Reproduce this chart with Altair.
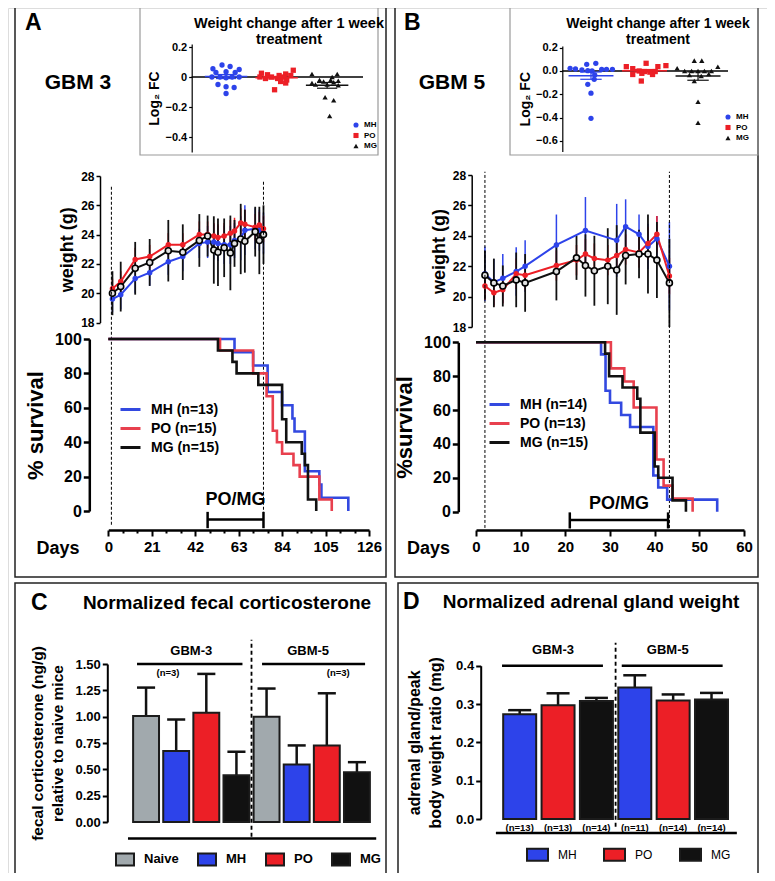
import altair as alt
import pandas as pd

FONT = "Liberation Sans"
OX, OY = 8, 8            # page margin
W, H = 759, 865


def px(v):
    return v - OX


def py(v):
    return v - OY


BLUE = "#2D43EA"
RED = "#EC1F26"
BLACK = "#111111"
GREY = "#A1A9AD"
S_BLUE = "#3349E0"
S_RED = "#E8404E"

GROUPS = ["MH", "PO", "MG"]
GCOL = [BLUE, RED, BLACK]

# ---------------- inset data: log2 fold change after 1 week ----------------
fcA_MH = [0.055, 0.08, 0.07, 0.05, 0.03, 0.035, 0.03, 0.0, 0.0, -0.005, 0.0, 0.0, -0.05, -0.065, -0.07, -0.11]
jA_MH = [-0.26, -0.08, 0.08, 0.26, -0.2, 0.0, 0.18, -0.28, -0.12, 0.0, 0.12, 0.26, -0.16, 0.0, 0.16, 0.0]
fcA_PO = [0.045, 0.025, 0.02, 0.015, 0.01, 0.01, 0.0, 0.0, 0.0, -0.01, -0.01, -0.02, -0.03, -0.04, -0.085]
jA_PO = [0.33, -0.3, 0.18, -0.18, 0.05, 0.28, -0.33, -0.1, 0.12, -0.22, 0.02, 0.2, 0.08, 0.18, -0.04]
fcA_MG = [0.02, 0.02, 0.0, -0.02, -0.02, -0.025, -0.03, -0.035, -0.04, -0.05, -0.05, -0.055, -0.135, -0.155, -0.26]
jA_MG = [-0.3, 0.2, 0.1, -0.15, 0.07, 0.22, -0.07, 0.13, -0.3, -0.23, 0.0, 0.22, -0.04, 0.13, 0.05]

fcB_MH = [0.023, 0.017, 0.009, 0.003, 0.057, 0.066, 0.014, 0.014, 0.014, 0.0, -0.034, -0.071, -0.114, -0.19, -0.406]
jB_MH = [-0.39, -0.29, -0.17, -0.06, -0.08, 0.09, 0.2, 0.29, 0.4, 0.02, 0.07, 0.06, -0.06, 0.0, 0.0]
fcB_PO = [0.037, 0.066, 0.037, 0.046, 0.02, 0.0, -0.005, -0.01, -0.005, -0.03, -0.03, -0.02, -0.086]
jB_PO = [-0.34, 0.03, 0.25, 0.4, -0.22, -0.1, 0.0, 0.1, 0.2, -0.22, 0.15, -0.05, -0.06]
fcB_MG = [0.089, 0.089, 0.023, 0.037, 0.0, 0.0, 0.0, 0.0, 0.0, -0.034, -0.043, -0.026, -0.086, -0.263, -0.443]
jB_MG = [-0.07, 0.07, -0.39, 0.37, -0.25, -0.12, 0.0, 0.12, 0.25, -0.16, 0.06, 0.2, -0.07, 0.0, 0.0]

# ---------------- body weight curves ----------------
wA_days = [2, 6, 13, 20, 29, 36, 44, 48, 51, 53, 56, 59, 61, 64, 66, 71, 73, 75]
wA_MH = [19.6, 19.9, 21.0, 21.4, 22.15, 22.5, 23.4, 23.5, 23.5, 23.4, 23.3, 23.3, 23.6, 23.75, 24.3, 24.4, 24.3, 24.1]
wA_PO = [20.3, 20.8, 22.3, 22.5, 23.3, 23.3, 24.0, 24.0, 23.9, 23.8, 23.9, 24.1, 24.25, 24.8, 24.7, 24.5, 24.65, 24.4]
wA_MG = [20.0, 20.45, 21.7, 22.1, 22.9, 22.8, 23.6, 23.9, 22.95, 22.8, 23.1, 22.75, 23.4, 23.7, 23.55, 24.2, 23.6, 24.0]
sdA_MH = [0.9, 1.0, 1.0, 0.9, 0.9, 1.0, 1.0, 1.1, 1.2, 1.2, 1.3, 1.3, 1.2, 1.5, 1.7, 1.4, 1.4, 1.4]
sdA_PO = [0.7, 0.7, 0.8, 0.8, 0.8, 0.8, 0.9, 0.9, 0.9, 0.9, 0.9, 0.9, 0.9, 1.0, 1.0, 0.9, 0.9, 0.9]
sdA_MG = [1.5, 1.7, 1.8, 1.6, 2.1, 1.9, 1.8, 1.4, 2.3, 2.3, 2.0, 2.55, 1.6, 2.4, 2.15, 1.7, 2.3, 2.0]

wB_days = [2, 4, 6, 9, 11, 18, 22.5, 24.5, 26.5, 29.5, 31.5, 33.5, 36.5, 38.5, 40.5, 43.3]
wB_MH = [21.5, 20.95, 21.2, 21.65, 22.0, 23.4, None, 24.35, None, None, 23.7, 24.6, 24.1, 23.3, 23.8, 22.0]
wB_PO = [20.7, 20.25, 20.45, 21.5, 21.4, 22.05, 22.4, 22.8, 22.5, 22.4, 22.7, 23.1, 22.9, 23.5, 24.1, 21.35]
wB_MG = [21.4, 20.9, 20.7, 21.1, 20.9, 21.65, 22.55, 22.05, 21.7, 22.0, 21.75, 22.7, 22.8, 22.8, 22.4, 20.9]
sdB_MH = [1.8, 1.5, 1.6, 1.6, 1.7, 2.0, None, 2.2, None, None, 2.4, 1.8, 1.3, 1.5, 1.5, 2.9]
sdB_PO = [0.9, 0.9, 0.9, 1.0, 1.0, 1.0, 1.0, 1.0, 1.0, 1.0, 1.0, 1.0, 1.0, 1.1, 1.2, 1.2]
sdB_MG = [1.6, 1.6, 1.35, 1.8, 1.9, 1.9, 1.45, 2.05, 2.3, 2.5, 2.95, 1.9, 1.6, 2.6, 2.5, 2.9]

# ---------------- Kaplan-Meier survival ----------------
sA_MH_d = [0, 61, 70, 77, 84, 89, 90, 95, 102, 103, 116]
sA_MH_s = [100, 92.3, 84.6, 69.2, 61.5, 53.8, 46.2, 23.1, 15.4, 7.7, 0]
sA_PO_d = [0, 54, 70, 76.5, 79.5, 81.5, 84, 89.5, 92.5, 102, 108]
sA_PO_s = [100, 93.3, 80, 66.7, 46.7, 40, 33.3, 26.7, 20, 6.7, 0]
sA_MG_d = [0, 53, 60, 62, 72.5, 84, 86, 93.5, 95, 96.5, 100.5]
sA_MG_s = [100, 93.3, 86.7, 80, 73.3, 53.3, 40, 33.3, 26.7, 6.7, 0]
nA = [13, 15, 15]

sB_MH_d = [0, 28, 29, 30, 32.5, 34.5, 39.7, 40.8, 42.8, 54]
sB_MH_s = [100, 92.9, 71.4, 64.3, 57.1, 50, 21.4, 14.3, 7.1, 0]
sB_PO_d = [0, 30.2, 33.2, 35.3, 40.4, 42, 44, 48.5]
sB_PO_s = [100, 84.6, 76.9, 61.5, 30.8, 15.4, 7.7, 0]
sB_MG_d = [0, 28.9, 29.8, 32.8, 36.1, 36.8, 40, 40.8, 44, 47]
sB_MG_s = [100, 93.3, 80, 73.3, 66.7, 46.7, 26.7, 20, 6.7, 0]
nB = [14, 13, 15]

# ---------------- C: fecal corticosterone ----------------
C_groups = ["Naive", "MH", "PO", "MG"]
C_gbm3 = [1.006, 0.673, 1.038, 0.444]
C_gbm3_sd = [0.27, 0.30, 0.368, 0.223]
C_gbm5 = [1.0, 0.546, 0.727, 0.473]
C_gbm5_sd = [0.267, 0.181, 0.495, 0.095]

# ---------------- D: adrenal gland weight ----------------
D_groups = ["MH", "PO", "MG"]
D_gbm3 = [0.273, 0.297, 0.308]
D_gbm3_sd = [0.011, 0.031, 0.008]
D_gbm5 = [0.343, 0.309, 0.312]
D_gbm5_sd = [0.032, 0.016, 0.017]
D_n3 = [13, 13, 14]
D_n5 = [11, 14, 14]

DUMMY = pd.DataFrame({"k": [0]})


def lin(domain, rng):
    return alt.Scale(domain=domain, range=rng, nice=False, zero=False)


def yaxis(x_ref, values, title, lab_size, title_size, tick, dom_w, **kw):
    d = dict(orient="left", offset=-px(x_ref), values=values, title=title, grid=False,
             labelFont=FONT, labelFontSize=lab_size, labelFontWeight="bold", labelColor="black",
             titleFont=FONT, titleFontSize=title_size, titleFontWeight="bold", titleColor="black",
             domainColor="black", domainWidth=dom_w, tickColor="black", tickWidth=dom_w,
             tickSize=tick, labelPadding=2, labelFlush=False, labelOverlap=False)
    d.update(kw)
    return alt.Axis(**d)


# ======================= insets =======================
def inset(vals, jits, xdom, xr, ydom, yr, ax_x, yvals, lab_expr, leg_xy):
    rows, st = [], []
    for gi, g in enumerate(GROUPS):
        for v, j in zip(vals[gi], jits[gi]):
            rows.append({"grp": g, "pos": gi + 1 + j, "val": v})
        s = pd.Series(vals[gi])
        m = s.mean()
        se = s.std() / len(s) ** 0.5
        st.append({"col": GCOL[gi], "pos": gi + 1, "x0": gi + 1 - 0.42, "x1": gi + 1 + 0.42,
                   "c0": gi + 1 - 0.2, "c1": gi + 1 + 0.2, "m": m, "lo": m - se, "hi": m + se})
    df = pd.DataFrame(rows)
    st = pd.DataFrame(st)
    xs = lin(xdom, [px(a) for a in xr])
    ys = lin(ydom, [py(b) for b in yr])
    yax = yaxis(ax_x, yvals, "Log\u2082 FC", 11, 14, 3, 1.2, labelExpr=lab_expr, titlePadding=3)
    zero_df = pd.DataFrame({"x0": [xdom[0]], "x1": [xdom[1]], "y": [0.0]})
    zero = alt.Chart(zero_df).mark_rule(color="black", strokeWidth=1.3).encode(
        x=alt.X("x0:Q", scale=xs, axis=None), x2="x1:Q", y=alt.Y("y:Q", scale=ys, axis=yax))
    leg = alt.Legend(orient="none", legendX=px(leg_xy[0]), legendY=py(leg_xy[1]), title=None,
                     labelFont=FONT, labelFontSize=8, labelFontWeight="bold", labelColor="black",
                     symbolSize=26, rowPadding=2.5, labelOffset=4)
    pts = alt.Chart(df).mark_point(filled=True, size=28, opacity=1).encode(
        x=alt.X("pos:Q", scale=xs, axis=None),
        y=alt.Y("val:Q", scale=ys, axis=yax),
        color=alt.Color("grp:N", scale=alt.Scale(domain=GROUPS, range=GCOL), legend=leg),
        shape=alt.Shape("grp:N", scale=alt.Scale(domain=GROUPS, range=["circle", "square", "triangle-up"]), legend=leg))
    mean = alt.Chart(st).mark_rule(strokeWidth=1.5).encode(
        x=alt.X("x0:Q", scale=xs, axis=None), x2="x1:Q", y=alt.Y("m:Q", scale=ys, axis=yax),
        stroke=alt.Stroke("col:N", scale=None))
    sem = alt.Chart(st).mark_rule(strokeWidth=1.2).encode(
        x=alt.X("pos:Q", scale=xs, axis=None), y=alt.Y("lo:Q", scale=ys, axis=yax), y2="hi:Q",
        stroke=alt.Stroke("col:N", scale=None))
    cap_lo = alt.Chart(st).mark_rule(strokeWidth=1.2).encode(
        x=alt.X("c0:Q", scale=xs, axis=None), x2="c1:Q", y=alt.Y("lo:Q", scale=ys, axis=yax),
        stroke=alt.Stroke("col:N", scale=None))
    cap_hi = alt.Chart(st).mark_rule(strokeWidth=1.2).encode(
        x=alt.X("c0:Q", scale=xs, axis=None), x2="c1:Q", y=alt.Y("hi:Q", scale=ys, axis=yax),
        stroke=alt.Stroke("col:N", scale=None))
    return alt.layer(zero, pts, mean, sem, cap_lo, cap_hi)


insetA = inset([fcA_MH, fcA_PO, fcA_MG], [jA_MH, jA_PO, jA_MG], [0.32, 3.71], [191.7, 363],
               [-0.5, 0.22], [152, 44], 191.7, [0.2, 0, -0.2, -0.4],
               "datum.value == 0 ? '0' : format(datum.value, '.1f')", (352, 121))
insetB = inset([fcB_MH, fcB_PO, fcB_MG], [jB_MH, jB_PO, jB_MG], [0.464, 3.56], [562.3, 728],
               [-0.69, 0.215], [151.5, 45.9], 562.3, [0.2, 0.0, -0.2, -0.4, -0.6],
               "format(datum.value, '.1f')", (724, 113))


# ======================= weight curves =======================
def weight_panel(days, vals, sds, xs, ys, yax):
    errs, lines, pts = [], [], []
    for gi, g in enumerate(GROUPS):
        d = pd.DataFrame({"day": days, "w": vals[gi], "sd": sds[gi]}).dropna()
        d["lo"] = d["w"] - d["sd"]
        d["hi"] = d["w"] + d["sd"]
        b = alt.Chart(d)
        xx = alt.X("day:Q", scale=xs, axis=None)
        errs.append(b.mark_rule(color=GCOL[gi], strokeWidth=1.8 if g == "MG" else 1.5).encode(
            x=xx, y=alt.Y("lo:Q", scale=ys, axis=yax), y2="hi:Q"))
        lines.append(b.mark_line(color=GCOL[gi], strokeWidth=2).encode(
            x=xx, y=alt.Y("w:Q", scale=ys, axis=yax)))
        if g == "MG":
            pts.append(b.mark_circle(size=36, fill="#e2e2e2", stroke="black", strokeWidth=1.6, opacity=1).encode(
                x=xx, y=alt.Y("w:Q", scale=ys, axis=yax)))
        else:
            pts.append(b.mark_circle(size=30, color=GCOL[gi], opacity=1).encode(
                x=xx, y=alt.Y("w:Q", scale=ys, axis=yax)))
    return alt.layer(*errs, *lines, *pts)


xsA = lin([0, 126], [px(108.3), px(369)])
xsB = lin([0, 60], [px(476), px(744)])

weightA = weight_panel(wA_days, [wA_MH, wA_PO, wA_MG], [sdA_MH, sdA_PO, sdA_MG], xsA,
                       lin([18, 28], [py(322.5), py(176)]),
                       yaxis(100, [18, 20, 22, 24, 26, 28], "weight (g)", 12, 18, 4, 1.5, titlePadding=4))
weightB = weight_panel(wB_days, [wB_MH, wB_PO, wB_MG], [sdB_MH, sdB_PO, sdB_MG], xsB,
                       lin([18, 28], [py(327), py(175)]),
                       yaxis(471.7, [18, 20, 22, 24, 26, 28], "weight (g)", 12, 18, 4, 1.5, titlePadding=4))


# ======================= survival =======================
def surv_panel(dlists, slists, ns, xs, ys, xax, yax, leg, dash, bracket, label):
    labels = [f"{g} (n={n})" for g, n in zip(GROUPS, ns)]
    rows = []
    for lab, ds, ss in zip(labels, dlists, slists):
        for d, s in zip(ds, ss):
            rows.append({"lab": lab, "day": d, "s": s})
    df = pd.DataFrame(rows)
    XX = alt.X("day:Q", scale=xs, axis=xax)
    lines = alt.Chart(df).mark_line(interpolate="step-after", strokeWidth=2.6).encode(
        x=XX, y=alt.Y("s:Q", scale=ys, axis=yax),
        color=alt.Color("lab:N", scale=alt.Scale(domain=labels, range=[S_BLUE, S_RED, BLACK]), legend=leg),
        order=alt.Order("day:Q"))
    dash_df = pd.DataFrame(dash)
    dashes = alt.Chart(dash_df).mark_rule(color="black", strokeWidth=1, strokeDash=[3, 2]).encode(
        x=XX, y=alt.Y("y0:Q", scale=ys, axis=yax), y2="y1:Q")
    br_df = pd.DataFrame([bracket])
    br = alt.Chart(br_df).mark_rule(color="black", strokeWidth=2.5).encode(
        x=alt.X("x0:Q", scale=xs, axis=xax), x2="x1:Q", y=alt.Y("y:Q", scale=ys, axis=yax))
    caps_df = pd.DataFrame({"day": [bracket["x0"], bracket["x1"]],
                            "y0": [bracket["y"] - 5, bracket["y"] - 5],
                            "y1": [bracket["y"] + 4.5, bracket["y"] + 4.5]})
    caps = alt.Chart(caps_df).mark_rule(color="black", strokeWidth=2.5).encode(
        x=XX, y=alt.Y("y0:Q", scale=ys, axis=yax), y2="y1:Q")
    txt = alt.Chart(pd.DataFrame([label])).mark_text(font=FONT, fontSize=18, fontWeight="bold",
                                                       color="black", baseline="middle").encode(
        x=XX, y=alt.Y("s:Q", scale=ys, axis=yax), text="t:N")
    return alt.layer(dashes, lines, br, caps, txt)


def surv_leg(x, y):
    return alt.Legend(orient="none", legendX=px(x), legendY=py(y), title=None, symbolType="stroke",
                      symbolSize=400, symbolStrokeWidth=3, labelFont=FONT, labelFontSize=14,
                      labelFontWeight="bold", labelColor="black", labelOffset=9, rowPadding=0)


survA = surv_panel(
    [sA_MH_d, sA_PO_d, sA_MG_d], [sA_MH_s, sA_PO_s, sA_MG_s], nA, xsA,
    lin([0, 100], [py(511), py(339)]),
    alt.Axis(orient="bottom", offset=py(530) - H, values=list(range(0, 127, 7)), grid=False,
             labelExpr="datum.value % 21 == 0 ? datum.label : ''",
             tickSize={"condition": {"test": "datum.value % 21 == 0", "value": 6}, "value": 3},
             labelFont=FONT, labelFontSize=15, labelFontWeight="bold", labelColor="black",
             labelFlush=False, labelOverlap=False, labelPadding=3,
             domainColor="black", domainWidth=2.5, tickColor="black", tickWidth=2,
             title="Days", titleFont=FONT, titleFontSize=18, titleFontWeight="bold", titleColor="black",
             titleX=px(57.5), titleY=18, titleAlign="center", titleBaseline="middle", titleAngle=0),
    yaxis(89.3, [0, 20, 40, 60, 80, 100], "% survival", 16, 22, 6, 2.5, titlePadding=7),
    surv_leg(119, 398),
    {"day": [1.5, 75], "y0": [-8, -8], "y1": [189.5, 191.5]},
    {"x0": 48, "x1": 75, "y": -5},
    {"day": 61.5, "s": 6.5, "t": "PO/MG"})

survB = surv_panel(
    [sB_MH_d, sB_PO_d, sB_MG_d], [sB_MH_s, sB_PO_s, sB_MG_s], nB, xsB,
    lin([0, 100], [py(511.7), py(342.3)]),
    alt.Axis(orient="bottom", offset=py(530) - H, values=list(range(0, 61, 10)), grid=False,
             labelFont=FONT, labelFontSize=15, labelFontWeight="bold", labelColor="black",
             labelFlush=False, labelOverlap=False, labelPadding=3, tickSize=6,
             domainColor="black", domainWidth=2.5, tickColor="black", tickWidth=2,
             title="Days", titleFont=FONT, titleFontSize=18, titleFontWeight="bold", titleColor="black",
             titleX=px(428), titleY=18, titleAlign="center", titleBaseline="middle", titleAngle=0),
    yaxis(458.3, [0, 20, 40, 60, 80, 100], "%survival", 16, 22, 6, 2.5, titlePadding=7),
    surv_leg(488, 393),
    {"day": [2, 43.3], "y0": [-9.6, -9.6], "y1": [200.7, 200.7]},
    {"x0": 21, "x1": 43, "y": -4.9},
    {"day": 32, "s": 4.5, "t": "PO/MG"})


# ======================= bar panels =======================
def bar_panel(groups, colors, v3, sd3, v5, sd5, xs, ys, yax, leg, ann):
    rows = []
    k = len(groups)
    for i, g in enumerate(groups):
        rows.append({"grp": g, "pos": i, "val": v3[i], "top": v3[i] + sd3[i]})
    for i, g in enumerate(groups):
        rows.append({"grp": g, "pos": k + i, "val": v5[i], "top": v5[i] + sd5[i]})
    df = pd.DataFrame(rows)
    df["x0"] = df["pos"] - 0.43
    df["x1"] = df["pos"] + 0.43
    df["c0"] = df["pos"] - 0.3
    df["c1"] = df["pos"] + 0.3
    df["zero"] = 0.0
    b = alt.Chart(df)
    whisk = b.mark_rule(color="#111111", strokeWidth=2.5).encode(
        x=alt.X("pos:Q", scale=xs, axis=None), y=alt.Y("val:Q", scale=ys, axis=yax), y2="top:Q")
    cap = b.mark_rule(color="#111111", strokeWidth=2.5).encode(
        x=alt.X("c0:Q", scale=xs, axis=None), x2="c1:Q", y=alt.Y("top:Q", scale=ys, axis=yax))
    bars = b.mark_bar(stroke="#1b1b1b", strokeWidth=2, opacity=1).encode(
        x=alt.X("x0:Q", scale=xs, axis=None), x2="x1:Q",
        y=alt.Y("val:Q", scale=ys, axis=yax), y2="zero:Q",
        color=alt.Color("grp:N", scale=alt.Scale(domain=groups, range=colors), legend=leg))
    layers = [whisk, cap, bars]
    hl = pd.DataFrame(ann["hlines"])
    layers.append(alt.Chart(hl).mark_rule(color="black", strokeWidth=2.5).encode(
        x=alt.X("x0:Q", scale=xs, axis=None), x2="x1:Q", y=alt.Y("y:Q", scale=ys, axis=yax)))
    sep = pd.DataFrame([ann["sep"]])
    layers.append(alt.Chart(sep).mark_rule(color="black", strokeWidth=1.8, strokeDash=[4, 3]).encode(
        x=alt.X("x:Q", scale=xs, axis=None), y=alt.Y("y0:Q", scale=ys, axis=yax), y2="y1:Q"))
    gl = pd.DataFrame(ann["glabels"])
    layers.append(alt.Chart(gl).mark_text(font=FONT, fontSize=13, fontWeight="bold", color="black").encode(
        x=alt.X("x:Q", scale=xs, axis=None), y=alt.Y("y:Q", scale=ys, axis=yax), text="t:N"))
    nl = pd.DataFrame(ann["nlabels"])
    layers.append(alt.Chart(nl).mark_text(font=FONT, fontSize=9.5, fontWeight="bold", color="black").encode(
        x=alt.X("x:Q", scale=xs, axis=None), y=alt.Y("y:Q", scale=ys, axis=yax), text="t:N"))
    return alt.layer(*layers)


def bar_leg(x, y, path, size, bold, col_pad, lab_size):
    return alt.Legend(orient="none", direction="horizontal", legendX=px(x), legendY=py(y), title=None,
                      symbolType=path, symbolSize=size, symbolOpacity=1,
                      symbolStrokeColor="#1b1b1b", symbolStrokeWidth=2,
                      labelFont=FONT, labelFontSize=lab_size,
                      labelFontWeight="bold" if bold else "normal", labelColor="black",
                      labelOffset=9, columnPadding=col_pad)


C_ann = {
    "hlines": [{"x0": -0.3, "x1": 3.2, "y": 1.5}, {"x0": 3.85, "x1": 7.27, "y": 1.5},
               {"x0": -0.6, "x1": 7.64, "y": -0.157}],
    "sep": {"x": 3.5, "y0": -0.14, "y1": 1.73},
    "glabels": [{"x": 1.5, "y": 1.62, "t": "GBM-3"}, {"x": 5.38, "y": 1.62, "t": "GBM-5"}],
    "nlabels": [{"x": 0.73, "y": 1.41, "t": "(n=3)"}, {"x": 6.38, "y": 1.41, "t": "(n=3)"}],
}
panelC = bar_panel(C_groups, [GREY, BLUE, RED, BLACK], C_gbm3, C_gbm3_sd, C_gbm5, C_gbm5_sd,
                   lin([-0.5, 7.5], [px(131), px(372)]), lin([0, 1.5], [py(822), py(664)]),
                   yaxis(107.3, [0, 0.25, 0.5, 0.75, 1.0, 1.25, 1.5],
                         ["fecal corticosterone (ng/g)", "relative to naive mice"], 13, 15.5, 5, 2,
                         format=".2f", titlePadding=9, titleLineHeight=20),
                   bar_leg(115, 849, "M-1,-0.667H1V0.667H-1Z", 324, True, 15, 13), C_ann)

D_ann = {
    "hlines": [{"x0": -0.46, "x1": 2.17, "y": 0.4}, {"x0": 2.66, "x1": 5.29, "y": 0.4},
               {"x0": -0.62, "x1": 5.66, "y": -0.0366}],
    "sep": {"x": 2.5, "y0": -0.02, "y1": 0.46},
    "glabels": [{"x": 0.87, "y": 0.441, "t": "GBM-3"}, {"x": 3.86, "y": 0.441, "t": "GBM-5"}],
    "nlabels": [{"x": i, "y": -0.024, "t": f"(n={n})"} for i, n in enumerate(D_n3 + D_n5)],
}
panelD = bar_panel(D_groups, [BLUE, RED, BLACK], D_gbm3, D_gbm3_sd, D_gbm5, D_gbm5_sd,
                   lin([-0.5, 5.5], [px(500.5), px(730.7)]), lin([0, 0.4], [py(819), py(665.7)]),
                   yaxis(480.7, [0, 0.1, 0.2, 0.3, 0.4],
                         ["adrenal gland/peak", "body weight ratio (mg)"], 13, 16, 5, 2,
                         format=".1f", titlePadding=12, titleLineHeight=21),
                   bar_leg(526, 843, "M-1,-0.57H1V0.57H-1Z", 441, False, 23, 12), D_ann)


# ======================= frames and panel labels =======================
def frame(x0, y0, x1, y1, col, sw):
    return alt.Chart(DUMMY).mark_rect(filled=False, color=col, strokeWidth=sw).encode(
        x=alt.value(px(x0)), x2=alt.value(px(x1)), y=alt.value(py(y0)), y2=alt.value(py(y1)))


def label(t, x, y, size, align="left", lh=None, baseline="middle"):
    kw = dict(text=t, font=FONT, fontSize=size, fontWeight="bold", color="black",
              align=align, baseline=baseline)
    if lh:
        kw.update(lineBreak="\n", lineHeight=lh)
    return alt.Chart(DUMMY).mark_text(**kw).encode(x=alt.value(px(x)), y=alt.value(py(y)))


frames = [
    frame(15, 3, 386, 577, "#222222", 1.5),
    frame(395, 3, 758, 577, "#222222", 1.5),
    frame(15, 583, 386, 877, "#222222", 1.5),
    frame(398, 583, 758, 877, "#222222", 1.5),
    frame(140, 3, 378, 155, "#9a9a9a", 1.2),
    frame(510, 3, 758, 155, "#9a9a9a", 1.2),
]
labels = [
    label("A", 25, 12, 23, baseline="top"),
    label("GBM 3", 78, 83, 21, "center"),
    label("B", 404, 12, 23, baseline="top"),
    label("GBM 5", 452, 83, 21, "center"),
    label("Weight change after 1 week\ntreatment", 289, 24, 14.5, "center", 16),
    label("Weight change after 1 week\ntreatment", 658, 24, 14, "center", 16),
    label("C", 31, 603, 23),
    label("Normalized fecal corticosterone", 227, 603, 19, "center"),
    label("D", 403, 602, 23),
    label("Normalized adrenal gland weight", 591, 602, 19, "center"),
]

chart = alt.layer(
    *frames, insetA, insetB, weightA, weightB, survA, survB, panelC, panelD, *labels
).resolve_scale(
    x="independent", y="independent", color="independent", shape="independent"
).resolve_axis(
    x="independent", y="independent"
).resolve_legend(
    color="independent", shape="independent"
).properties(
    width=W, height=H, autosize=alt.AutoSizeParams(type="none"), padding=0
).configure_view(stroke=None).configure(font=FONT, background="white")

chart.save("out.html", embed_options={"renderer": "svg", "actions": False})
